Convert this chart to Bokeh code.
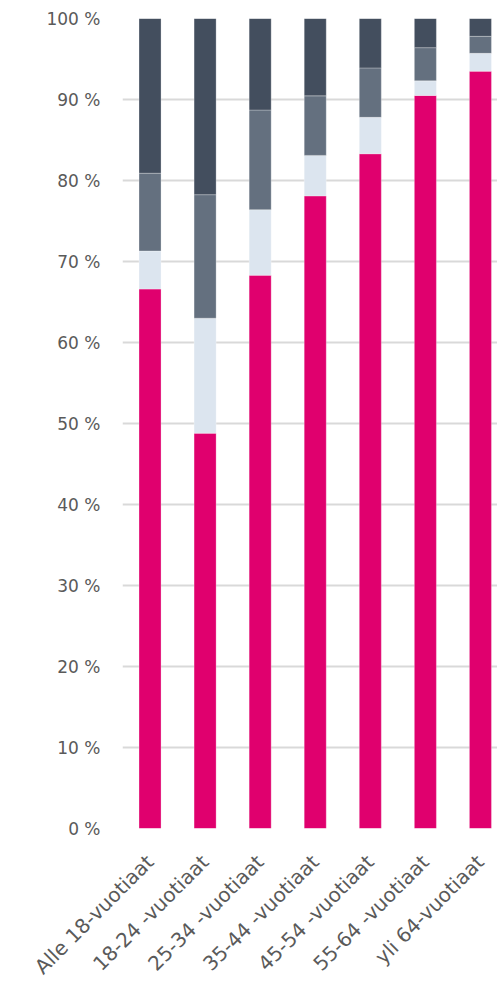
from bokeh.plotting import figure
from bokeh.models import Range1d, FixedTicker, ColumnDataSource
from bokeh.embed import file_html
from bokeh.resources import INLINE
import math

categories = ["Alle 18-vuotiaat", "18-24 -vuotiaat", "25-34 -vuotiaat", "35-44 -vuotiaat",
              "45-54 -vuotiaat", "55-64 -vuotiaat", "yli 64-vuotiaat"]
s1 = [66.6, 48.8, 68.3, 78.1, 83.3, 90.5, 93.5]
s2 = [4.7, 14.2, 8.1, 5.0, 4.5, 1.8, 2.2]
s3 = [9.6, 15.25, 12.3, 7.35, 6.1, 4.1, 2.1]
s4 = [19.1, 21.75, 11.3, 9.55, 6.1, 3.6, 2.2]
colors = ["#e0006e", "#dce5ef", "#64707f", "#434e5e"]
y_ticks = [0, 10, 20, 30, 40, 50, 60, 70, 80, 90, 100]

x = [i + 0.5 for i in range(len(categories))]
data = dict(x=x, s1=s1, s2=s2, s3=s3, s4=s4)
src = ColumnDataSource(data)

p = figure(width=497, height=990, output_backend="svg", toolbar_location=None,
           x_range=Range1d(0, 6.81), y_range=Range1d(0, 100),
           min_border_left=122, min_border_right=0, min_border_top=18, min_border_bottom=161)
p.outline_line_color = None
p.background_fill_color = "white"

p.vbar_stack(["s1", "s2", "s3", "s4"], x="x", width=0.4, source=src, color=colors,
             line_color="white", line_alpha=0.35, line_width=0.8)

p.yaxis.ticker = FixedTicker(ticks=y_ticks)
p.yaxis.major_label_overrides = {t: f"{t} %" for t in y_ticks}
p.xaxis.ticker = FixedTicker(ticks=x)
p.xaxis.major_label_overrides = {xi: c for xi, c in zip(x, categories)}
p.xaxis.major_label_orientation = math.pi / 4

for ax in (p.xaxis, p.yaxis):
    ax.axis_line_color = None
    ax.major_tick_line_color = None
    ax.minor_tick_line_color = None
    ax.major_label_text_font = "DejaVu Sans"
    ax.major_label_text_color = "#5a5a5a"
p.yaxis.major_label_text_font_size = "17px"
p.xaxis.major_label_text_font_size = "20px"
p.yaxis.major_label_standoff = 16
p.xaxis.major_label_standoff = 24

p.xgrid.grid_line_color = None
p.ygrid.ticker = FixedTicker(ticks=y_ticks)
p.ygrid.grid_line_color = "#d9d9d9"
p.ygrid.grid_line_width = 2

open("out.html", "w").write(file_html(p, INLINE))
